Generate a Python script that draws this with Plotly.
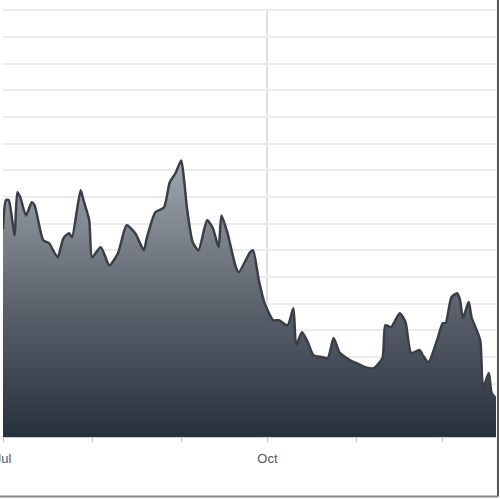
import plotly.graph_objects as go

# traced daily closes (arbitrary units, axis 0..16)
dates = [
    "2013-07-01", "2013-07-02", "2013-07-03", "2013-07-05", "2013-07-06", "2013-07-07",
    "2013-07-09", "2013-07-11", "2013-07-12", "2013-07-15", "2013-07-17", "2013-07-20",
    "2013-07-22", "2013-07-24", "2013-07-25", "2013-07-28", "2013-07-29", "2013-07-31",
    "2013-08-01", "2013-08-04", "2013-08-07", "2013-08-10", "2013-08-13", "2013-08-16",
    "2013-08-19", "2013-08-20", "2013-08-23", "2013-08-26", "2013-08-28", "2013-08-30",
    "2013-09-01", "2013-09-02", "2013-09-03", "2013-09-05", "2013-09-07", "2013-09-10",
    "2013-09-12", "2013-09-14", "2013-09-15", "2013-09-17", "2013-09-20", "2013-09-21",
    "2013-09-25", "2013-09-26", "2013-09-28", "2013-09-30", "2013-10-03", "2013-10-05",
    "2013-10-08", "2013-10-10", "2013-10-11", "2013-10-13", "2013-10-15", "2013-10-17",
    "2013-10-20", "2013-10-22", "2013-10-24", "2013-10-26", "2013-10-28", "2013-10-31",
    "2013-11-01", "2013-11-04", "2013-11-07", "2013-11-10", "2013-11-11", "2013-11-13",
    "2013-11-16", "2013-11-18", "2013-11-20", "2013-11-23", "2013-11-24", "2013-11-26",
    "2013-11-29", "2013-12-01", "2013-12-02", "2013-12-04", "2013-12-06", "2013-12-07",
    "2013-12-08", "2013-12-10", "2013-12-11", "2013-12-14", "2013-12-15", "2013-12-17",
    "2013-12-18", "2013-12-20",
]
values = [
    7.8, 8.88, 8.88, 7.57, 9.18, 8.99,
    8.31, 8.80, 8.69, 7.38, 7.27, 6.74,
    7.45, 7.64, 7.49, 9.25, 8.88, 8.13,
    6.74, 7.12, 6.44, 6.89, 7.94, 7.64,
    7.00, 7.45, 8.43, 8.61, 9.55, 9.89,
    10.37, 9.63, 8.58, 7.30, 7.00, 8.13,
    7.83, 7.12, 8.31, 7.68, 6.37, 6.18,
    6.93, 7.00, 5.88, 5.02, 4.38, 4.38,
    4.19, 4.83, 3.45, 3.93, 3.56, 3.07,
    3.00, 2.96, 3.71, 3.18, 3.00, 2.81,
    2.77, 2.62, 2.58, 2.96, 4.19, 4.12,
    4.64, 4.31, 3.15, 3.26, 3.07, 2.81,
    3.63, 4.27, 4.27, 5.24, 5.39, 5.13,
    4.46, 5.06, 4.49, 3.63, 1.87, 2.40,
    1.65, 1.39,
]

major_ticks = ["2013-07-01", "2013-10-01"]
major_labels = ["Jul", "Oct"]
month_ticks = ["2013-07-01", "2013-08-01", "2013-09-01", "2013-10-01", "2013-11-01", "2013-12-01"]

fig = go.Figure()
fig.add_trace(go.Scatter(
    x=dates, y=values,
    mode="lines",
    line=dict(color="#3a3f47", width=2.5, shape="spline", smoothing=0.6),
    fill="tozeroy",
    fillgradient=dict(type="vertical", start=0, stop=10.5,
                      colorscale=[[0, "#27303d"], [0.5, "#5f6670"], [1, "#a3a8ae"]]),
    hoverinfo="skip",
))

fig.update_layout(
    width=500, height=500,
    margin=dict(l=3, r=4, t=9, b=63, autoexpand=False),
    plot_bgcolor="white",
    paper_bgcolor="white",
    showlegend=False,
    font=dict(family="Liberation Sans, Arial, sans-serif", size=13, color="#555555"),
)
fig.update_xaxes(
    type="date",
    range=["2013-07-01", "2013-12-19 12:00"],
    tickvals=major_ticks, ticktext=major_labels,
    ticks="outside", ticklen=4, tickcolor="#bbbbbb",
    ticklabeloverflow="allow", ticklabelstandoff=5,
    showgrid=True, gridcolor="#dedede", gridwidth=2,
    minor=dict(tickvals=month_ticks, ticks="outside", ticklen=4,
               tickcolor="#bbbbbb", showgrid=False),
    showline=True, linecolor="#cccccc", linewidth=1,
    zeroline=False, automargin=False,
)
fig.update_yaxes(
    range=[0, 16.05], dtick=1,
    showticklabels=False,
    showgrid=True, gridcolor="#ececec", gridwidth=2,
    zeroline=False, automargin=False,
)
# outer frame on the right and bottom edge of the picture
fig.add_shape(type="line", xref="paper", yref="paper",
              x0=1.004, x1=1.004, y0=1.05, y1=-0.139,
              line=dict(color="#555555", width=2))
fig.add_shape(type="line", xref="paper", yref="paper",
              x0=-0.01, x1=1.004, y0=-0.139, y1=-0.139,
              line=dict(color="#888888", width=2))

# the page body has a default 8px margin; drop it so the chart sits at 0,0
fig.write_html("out.html",
               config={"displayModeBar": False},
               post_script="document.body.style.margin='0';document.body.style.overflow='hidden';")
